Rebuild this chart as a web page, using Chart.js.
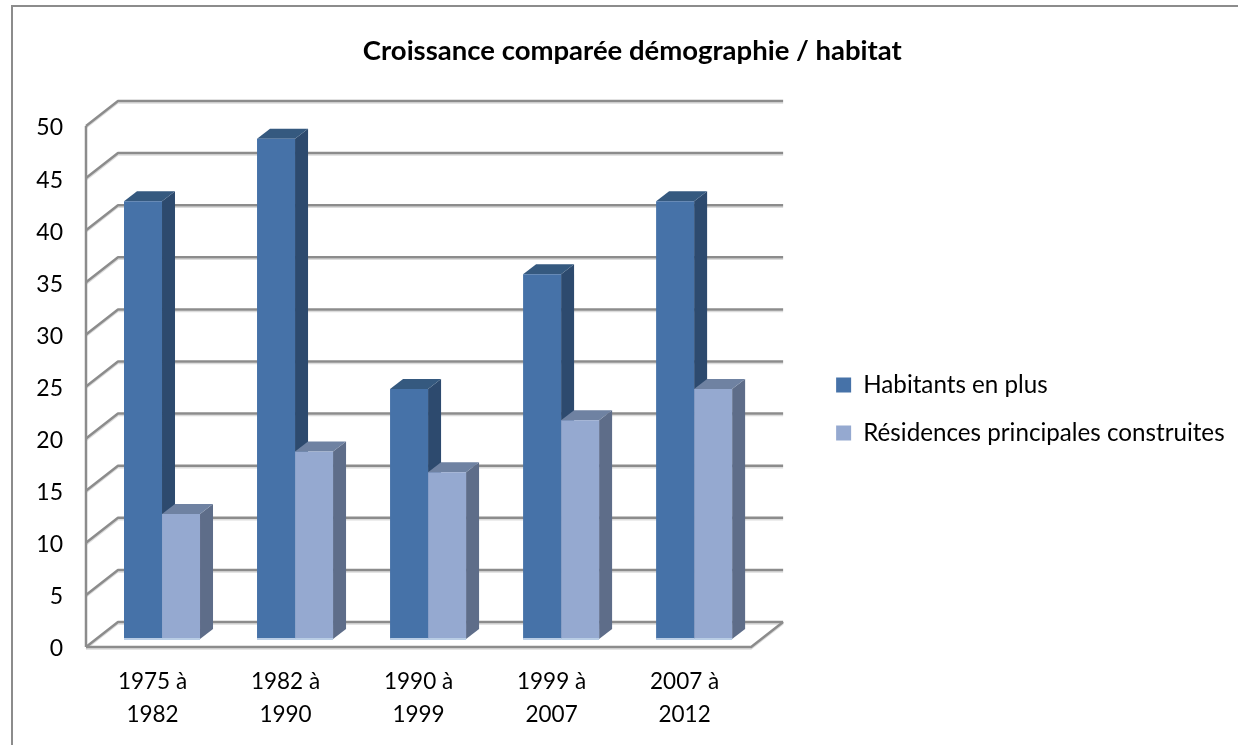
<!DOCTYPE html>
<html lang="fr">
<head>
    <meta charset="UTF-8">
    <title>Croissance comparée démographie / habitat</title>
    <script src="https://cdn.jsdelivr.net/npm/chart.js@4.4.3/dist/chart.umd.min.js"></script>
    <style>
        body { margin: 0; background: #fff; }
        #frame {
            position: absolute; left: 11px; top: 5px; right: 0; bottom: 0;
            border-left: 2px solid #8c8c8c; border-top: 2px solid #8c8c8c;
        }
        #chart { position: absolute; left: 0; top: 0; }
    </style>
</head>
<body>
    <div id="frame"></div>
    <canvas id="chart" width="1238" height="745"></canvas>

    <script>
        // values
        const periods = [['1975 à', '1982'], ['1982 à', '1990'], ['1990 à', '1999'], ['1999 à', '2007'], ['2007 à', '2012']];
        const habitants = [42, 48, 24, 35, 42];
        const residences = [12, 18, 16, 21, 24];
        const seriesNames = ['Habitants en plus', 'Résidences principales construites'];

        const FONT = 'Lato, "Open Sans", sans-serif';

        // face colours: front, side, top
        const faces = [
            { front: '#4672a8', side: '#2d4a6e', top: '#35597f' },
            { front: '#95a9d0', side: '#5e6d89', top: '#6f82a2' }
        ];

        // fake 3D: the floor runs back from the axes, the bars stand in the middle of it
        const wall = { dx: 32, dy: -25 };
        const barShift = { dx: 9.5, dy: -8 };
        const barDepth = { dx: 13, dy: -10 };

        function line(ctx, pts, color, width) {
            ctx.beginPath();
            pts.forEach((p, i) => i ? ctx.lineTo(p[0], p[1]) : ctx.moveTo(p[0], p[1]));
            ctx.strokeStyle = color;
            ctx.lineWidth = width;
            ctx.stroke();
        }

        function poly(ctx, pts, color) {
            ctx.beginPath();
            pts.forEach((p, i) => i ? ctx.lineTo(p[0], p[1]) : ctx.moveTo(p[0], p[1]));
            ctx.closePath();
            ctx.fillStyle = color;
            ctx.fill();
        }

        const walls3d = {
            id: 'walls3d',
            afterLayout(chart) {
                // the legend sits a little below the middle of its column
                chart.legend.top += 19;
                chart.legend.bottom += 19;
            },
            beforeDatasetsDraw(chart) {
                const ctx = chart.ctx;
                const y = chart.scales.y;
                const a = chart.chartArea;
                ctx.save();
                ctx.lineJoin = 'round';
                y.ticks.forEach(t => {
                    const py = y.getPixelForValue(t.value);
                    const pts = [[a.left, py], [a.left + wall.dx, py + wall.dy], [a.right + wall.dx, py + wall.dy]];
                    line(ctx, pts.map(p => [p[0], p[1] + 2]), '#dcdcdc', 1.5);
                    line(ctx, pts, '#8c8c8c', 2.5);
                });
                // floor front edge and right edge
                const floor = [[a.left, a.bottom], [a.right, a.bottom], [a.right + wall.dx, a.bottom + wall.dy]];
                line(ctx, floor.map(p => [p[0], p[1] + 2]), '#dcdcdc', 1.5);
                line(ctx, floor, '#8c8c8c', 2.5);
                line(ctx, [[a.left, a.top], [a.left, a.bottom]], '#8c8c8c', 2.5);

                // side and top faces, left series first so the right one overlaps it
                ctx.translate(barShift.dx, barShift.dy);
                faces.forEach((colors, i) => {
                    chart.getDatasetMeta(i).data.forEach(bar => {
                        const l = bar.x - bar.width / 2;
                        const r = bar.x + bar.width / 2;
                        const d = barDepth;
                        poly(ctx, [[r, bar.y], [r + d.dx, bar.y + d.dy], [r + d.dx, bar.base + d.dy], [r, bar.base]], colors.side);
                        poly(ctx, [[l, bar.y], [l + d.dx, bar.y + d.dy], [r + d.dx, bar.y + d.dy], [r, bar.y]], colors.top);
                    });
                });
                ctx.restore();
            },
            beforeDatasetDraw(chart) {
                chart.ctx.save();
                chart.ctx.translate(barShift.dx, barShift.dy);
            },
            afterDatasetDraw(chart, args) {
                const ctx = chart.ctx;
                // pale strip along the foot of the front face
                chart.getDatasetMeta(args.index).data.forEach(bar => {
                    line(ctx, [[bar.x - bar.width / 2, bar.base], [bar.x + bar.width / 2, bar.base]], '#b9cde5', 2);
                });
                ctx.restore();
            }
        };

        new Chart(document.getElementById('chart'), {
            type: 'bar',
            data: {
                labels: periods,
                datasets: [
                    { label: seriesNames[0], data: habitants, backgroundColor: faces[0].front },
                    { label: seriesNames[1], data: residences, backgroundColor: faces[1].front }
                ]
            },
            plugins: [walls3d],
            options: {
                responsive: false,
                animation: false,
                categoryPercentage: 76 / 133,
                barPercentage: 1,
                layout: { autoPadding: false, padding: { left: 30, top: 35, right: 3.4, bottom: 0 } },
                plugins: {
                    title: {
                        display: true,
                        text: 'Croissance comparée démographie / habitat',
                        color: '#000',
                        font: { family: FONT, size: 27.5, weight: 'bold' },
                        padding: { top: 0, bottom: 58 }
                    },
                    legend: {
                        position: 'right',
                        maxWidth: 500,
                        labels: {
                            color: '#000',
                            font: { family: FONT, size: 24.2 },
                            boxWidth: 15,
                            boxHeight: 15,
                            padding: 23.8
                        }
                    },
                    tooltip: { enabled: false }
                },
                scales: {
                    x: {
                        grid: { display: false },
                        border: { display: false },
                        ticks: {
                            color: '#000',
                            font: { family: FONT, size: 22.5, lineHeight: 1.47 },
                            maxRotation: 0,
                            autoSkip: false,
                            padding: 10
                        },
                        afterFit(s) { s.height = 98; }
                    },
                    y: {
                        min: 0,
                        max: 50,
                        grid: { display: false },
                        border: { display: false },
                        ticks: {
                            stepSize: 5,
                            color: '#000',
                            font: { family: FONT, size: 23 },
                            padding: 15,
                            labelOffset: 2
                        },
                        afterFit(s) { s.width = 56; }
                    },
                    // empty axis, keeps the gap between the plot and the legend
                    gap: {
                        position: 'right',
                        grid: { display: false },
                        border: { display: false },
                        ticks: { display: false },
                        afterFit(s) { s.width = 61.2; }
                    }
                }
            }
        });
    </script>
</body>
</html>
